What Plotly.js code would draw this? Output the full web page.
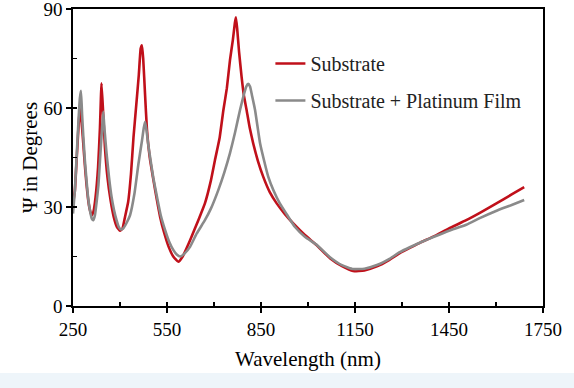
<!DOCTYPE html>
<html>
<head>
<meta charset="utf-8">
<script src="https://cdn.plot.ly/plotly-3.0.1.min.js"></script>
<style>html,body{margin:0;padding:0;background:#fff;}#chart{width:574px;height:388px;}</style>
</head>
<body>
<div id="chart"></div>
<script>
// Substrate (red)
const substrateWavelength = [250,256,262,268,272,275,279,283,288,293,298,303,309,315,322,330,336,341,346,352,360,370,380,390,400,408,416,426,435,443,452,460,466,470,474,480,486,495,507,518,528,540,555,570,586,600,624,650,671,690,703,718,730,741,751,760,767,770,774,780,788,795,804,814,825,840,857,878,900,925,953,990,1027,1070,1110,1144,1180,1220,1260,1293,1325,1360,1400,1450,1505,1550,1600,1650,1690];
const substratePsi = [31,35,45,55,60,58,54,49,42.5,37,32.5,29.5,27.5,28.5,33,42,54,67.5,59,48,39,32,27,24,22.8,23.5,27,31.5,40,51,61,70,78,79,75,64,53.5,45,38,32,27,22.5,18,15,13.4,15,20,26,31.1,38,44.2,51,59.4,66,74.5,80.5,86,87.5,84,77,69.5,64,59.4,54,49.3,44,39.2,34.5,31.1,28,25,21.5,18.5,14.5,12,10.6,10.8,12,14,16,17.6,19.3,21,23.5,26,28.3,31,33.8,36];

// Substrate + Platinum Film (gray)
const filmWavelength = [250,256,262,268,272,275.5,279,283,288,293,298,304,310,315,320,326,331,336,341,346.5,351,357,365,373,381,389,396,403,410,420,432,446,459,470,476,480,485,490,496,506,518,530,544,557,570,582,592,605,624,645,671,690,714,733,751,767,783,795,803,809,815,822,831,847,860,873,890,910,932,958,990,1027,1070,1110,1144,1180,1220,1260,1293,1325,1360,1400,1450,1505,1550,1600,1650,1690];
const filmPsi = [28,35,46,57,63,65.2,58,51.3,44,38.2,33,29,26.5,26,27.5,32,36.5,44,51.3,58.9,53,46.3,39,33.1,29,26,24,23.2,23.5,25,27.5,34,43.2,50,54,55.8,53,49,45.2,39,33.1,27.5,23,19.5,17,15.5,15,15.8,18,22,26,29.5,35.2,40.5,46.3,52.5,59.4,64,66.5,67.3,66.5,63.5,59.4,49.3,44,39.2,35,31.1,27.8,24,21,18.6,14.8,12.3,11.2,11.3,12.4,14.3,16.3,17.8,19.3,20.9,22.8,24.6,26.7,28.8,30.6,32.1];

const seriesNames = ["Substrate", "Substrate + Platinum Film"];
const xTickVals = [250,550,850,1150,1450,1750];
const yTickVals = [0,30,60,90];

const FONT = '"Liberation Serif", "Times New Roman", serif';

const traces = [
  {x: substrateWavelength, y: substratePsi, name: seriesNames[0], type: "scatter", mode: "lines",
   line: {color: "#c0101a", width: 2.6, shape: "spline", smoothing: 0.4}, legendgroup: "a", xaxis: "x", yaxis: "y"},
  {x: filmWavelength, y: filmPsi, name: seriesNames[1], type: "scatter", mode: "lines",
   line: {color: "#8a8a8a", width: 2.6, shape: "spline", smoothing: 0.4}, legendgroup: "b", xaxis: "x2", yaxis: "y2"}
];

const axisBase = {showgrid: false, zeroline: false, linecolor: "#000", linewidth: 1.8,
  tickcolor: "#000", tickwidth: 1.5, ticklabeloverflow: "allow"};

const layout = {
  width: 574, height: 388,
  margin: {l: 73, r: 31, t: 9, b: 82},
  paper_bgcolor: "#fff", plot_bgcolor: "#fff",
  font: {family: FONT, color: "#000", size: 19},
  showlegend: true,
  legend: {x: 0.42, xanchor: "left", y: 0.882, yanchor: "top", bgcolor: "rgba(0,0,0,0)",
    font: {family: FONT, size: 20, color: "#222"}, tracegroupgap: 8},
  xaxis: Object.assign({}, axisBase, {range: [250, 1750], tickmode: "array", tickvals: xTickVals,
    ticks: "outside", ticklen: 5, mirror: true,
    title: {text: "Wavelength (nm)", font: {family: FONT, size: 21}, standoff: 13}}),
  yaxis: Object.assign({}, axisBase, {range: [0, 90], tickmode: "array", tickvals: yTickVals,
    ticks: "outside", ticklen: 5, mirror: true,
    title: {text: "Ψ in Degrees", font: {family: FONT, size: 21}, standoff: 0}}),
  xaxis2: Object.assign({}, axisBase, {range: [250, 1750], overlaying: "x", anchor: "y2", side: "bottom",
    tickmode: "linear", tick0: 250, dtick: 150, ticks: "inside", ticklen: 4, showticklabels: false, showline: false}),
  yaxis2: Object.assign({}, axisBase, {range: [0, 90], overlaying: "y", anchor: "x2", side: "left",
    tickmode: "linear", tick0: 0, dtick: 15, ticks: "inside", ticklen: 4, showticklabels: false, showline: false}),
  shapes: [
    {type: "rect", xref: "paper", yref: "paper", x0: -0.2, x1: 1.1, y0: -0.3, y1: -0.226,
     fillcolor: "#eef5fa", line: {width: 0}, layer: "below"}
  ]
};

Plotly.newPlot("chart", traces, layout, {staticPlot: true, displayModeBar: false});
</script>
</body>
</html>
